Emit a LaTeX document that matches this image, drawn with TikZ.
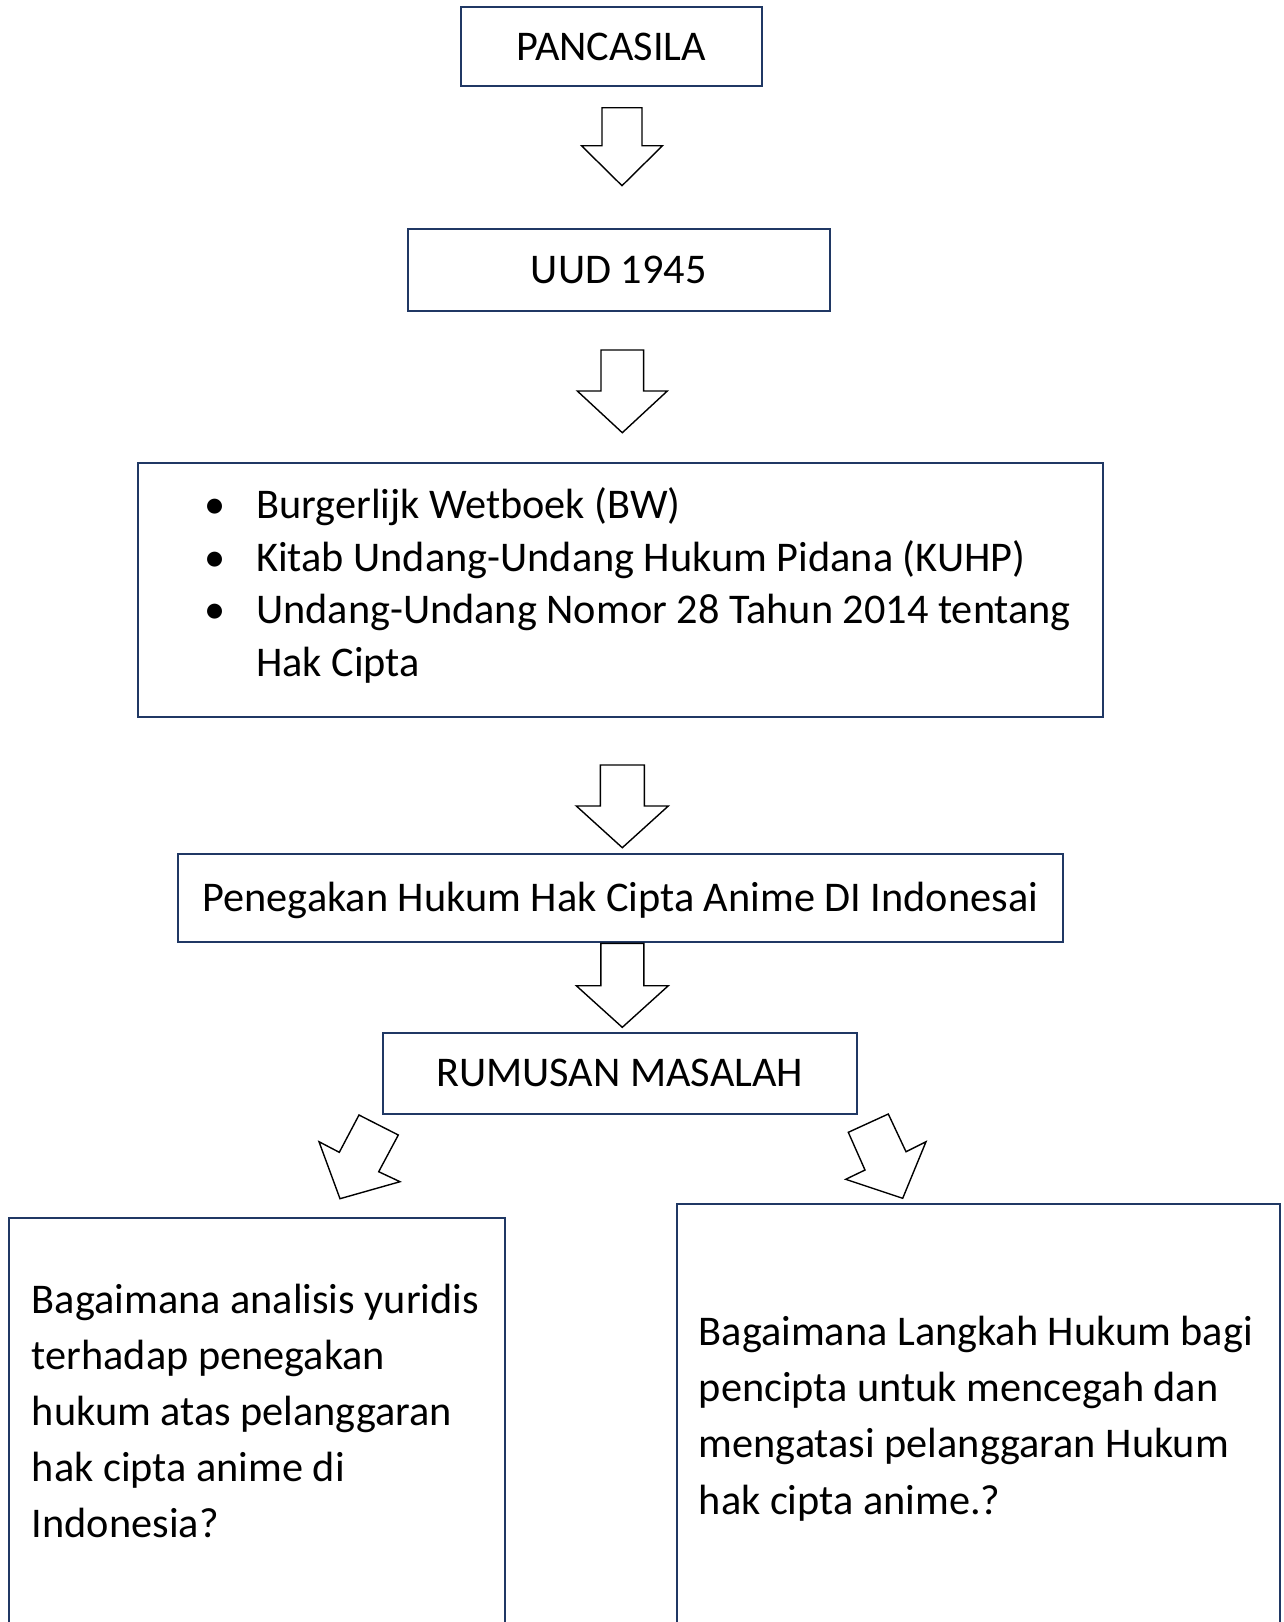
\documentclass[tikz,border=0pt]{standalone}
\usepackage{fontspec}
\setmainfont{Carlito}
\usetikzlibrary{calc}
\definecolor{boxnavy}{RGB}{32,56,100}
\newcommand\bodyfont{\fontsize{42.3}{52.8}\selectfont}
\newcommand\bul{\llap{\makebox[0pt]{•}\hspace{41pt}}}
\newcommand\vblockarrow[5]{%
  \draw[blockarrow] (#1) ++(-#2,0) -- ++(0,#4) -- ++(#2-#3,0) -- ++(#3,#5)
    -- ++(#3,-#5) -- ++(#2-#3,0) -- ++(0,-#4) -- cycle;}
\begin{document}
\begin{tikzpicture}[x=1pt,y=-1pt,
  box/.style={draw=boxnavy, line width=2pt, rectangle, inner sep=0pt,
    text height=27pt, text depth=0pt, font=\bodyfont},
  blockarrow/.style={draw=black, line width=1.4pt, fill=white, line join=miter},
  bodytext/.style={inner sep=0pt, anchor=base west}]
\useasboundingbox (0,0) rectangle (1283,1622);
\clip (0,0) rectangle (1283,1622);

% boxes
\node[box, minimum width=301pt, minimum height=78.7pt] (pancasila) at (611.2,46.65) {PANCASILA};
\node[box, minimum width=422.1pt, minimum height=82.7pt] (uud) at (618.75,270.05) {UUD 1945};
\node[box, minimum width=964.7pt, minimum height=253.4pt] (lawbox) at (620.65,590) {};
\node[box, minimum width=884.6pt, minimum height=88pt] (penegakan) at (620.3,898.3) {Penegakan Hukum Hak Cipta Anime DI Indonesai};
\node[box, minimum width=474pt, minimum height=80.8pt] (rumusan) at (619.7,1073.1) {RUMUSAN MASALAH};
\node[box, minimum width=496.5pt, minimum height=482pt] (q1box) at (256.75,1459) {};
\node[box, minimum width=602.8pt, minimum height=496pt] (q2box) at (978.1,1452) {};

% texts
\node[bodytext, font=\fontsize{42.3}{52.8}\selectfont] (lawlist) at (256,518.3)
  {\begin{tabular}[t]{@{}l@{}}
   \bul Burgerlijk Wetboek (BW)\\
   \bul Kitab Undang-Undang Hukum Pidana (KUHP)\\
   \bul Undang-Undang Nomor 28 Tahun 2014 tentang\\
   Hak Cipta
   \end{tabular}};
\node[bodytext, font=\fontsize{42.3}{56.1}\selectfont] (q1text) at (31.7,1313)
  {\begin{tabular}[t]{@{}l@{}}
   Bagaimana analisis yuridis\\ terhadap penegakan\\ hukum atas pelanggaran\\ hak cipta anime di\\ Indonesia?
   \end{tabular}};
\node[bodytext, font=\fontsize{42.3}{56.2}\selectfont] (q2text) at (698.6,1345.5)
  {\begin{tabular}[t]{@{}l@{}}
   Bagaimana Langkah Hukum bagi\\ pencipta untuk mencegah dan\\ mengatasi pelanggaran Hukum\\ hak cipta anime.?
   \end{tabular}};

% block arrows
\coordinate (a1) at (622,107.7);
\coordinate (a2) at (622.3,350);
\coordinate (a3) at (622.3,765);
\coordinate (a4) at (622.3,943.3);
\vblockarrow{a1}{20}{40.5}{38}{40}
\vblockarrow{a2}{21.3}{45}{41}{41.7}
\vblockarrow{a3}{22}{46}{41}{41.7}
\vblockarrow{a4}{21.5}{46}{42.4}{41.6}

\draw[blockarrow] (359,1115) -- (398.3,1135) -- (378.7,1171.7) -- (400,1181.7)
  -- (340,1198.7) -- (319,1141.7) -- (339.3,1152.3) -- cycle;
\draw[blockarrow] (848.3,1132.3) -- (888.3,1114) -- (906,1151.7) -- (926,1141.7)
  -- (902.7,1198.3) -- (845.7,1179.3) -- (865,1170) -- cycle;
\end{tikzpicture}
\end{document}
